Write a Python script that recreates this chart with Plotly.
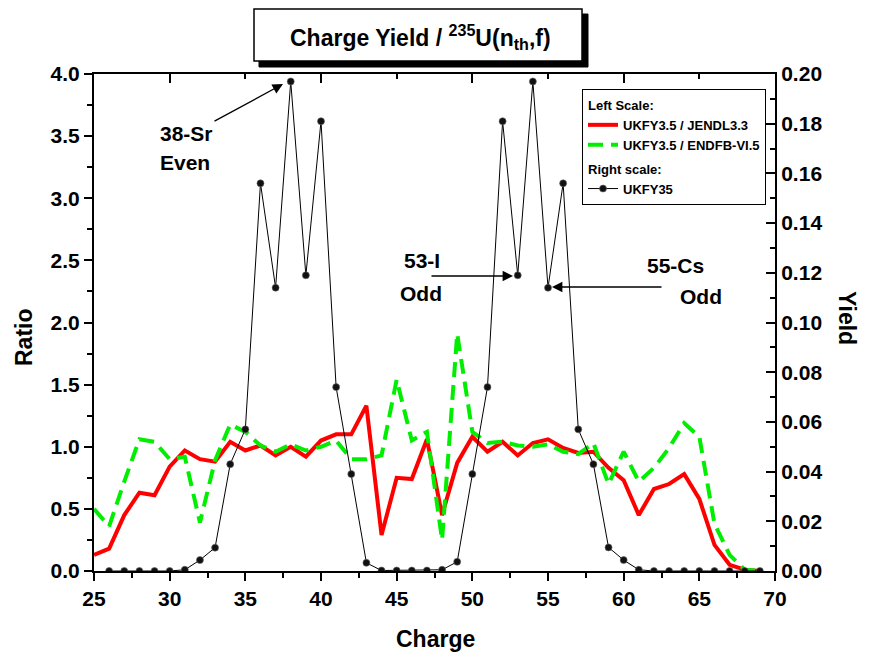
import plotly.graph_objects as go

# ---------------- data ----------------
charge = list(range(25, 70))
ratio_jendl = [0.13, 0.18, 0.45, 0.63, 0.61, 0.84, 0.97, 0.90, 0.88, 1.04,
               0.97, 1.01, 0.93, 1.00, 0.92, 1.05, 1.10, 1.10, 1.33, 0.29,
               0.75, 0.74, 1.06, 0.45, 0.87, 1.08, 0.96, 1.04, 0.93, 1.03,
               1.06, 0.99, 0.95, 0.96, 0.83, 0.73, 0.45, 0.66, 0.70, 0.78,
               0.58, 0.21, 0.05, 0.01, 0.00]
ratio_endfb = [0.50, 0.36, 0.72, 1.06, 1.04, 0.90, 0.92, 0.39, 0.89, 1.18,
               1.12, 1.01, 0.96, 1.02, 0.97, 1.00, 1.05, 0.90, 0.90, 0.93,
               1.54, 1.05, 1.12, 0.25, 1.91, 1.12, 1.03, 1.04, 1.01, 1.00,
               1.02, 0.96, 0.94, 1.03, 0.70, 0.96, 0.72, 0.83, 0.99, 1.19,
               1.08, 0.38, 0.13, 0.01, 0.00]
charge_yield = list(range(26, 70))
yield_ukfy = [0.0, 0.0, 0.0, 0.0, 0.0, 0.0005, 0.0044, 0.0094, 0.043, 0.057,
              0.156, 0.114, 0.197, 0.119, 0.181, 0.074, 0.039, 0.0033, 0.0002, 0.0002,
              0.0002, 0.0002, 0.0005, 0.0037, 0.039, 0.074, 0.181, 0.119, 0.197, 0.114,
              0.156, 0.057, 0.043, 0.0095, 0.0044, 0.0005, 0.0, 0.0, 0.0, 0.0,
              0.0, 0.0, 0.0, 0.0]

# ---------------- geometry helpers ----------------
OFF = 8  # default page body margin
W, H = 870 - OFF, 655 - OFF
L, R, T, B = 94, 775, 74, 571   # plot area in screen pixels


def px(x):
    return (x - L) / (R - L)


def py(y):
    return (B - y) / (B - T)


FONT = "Arial, Liberation Sans, Helvetica, sans-serif"

fig = go.Figure()

fig.add_trace(go.Scatter(
    x=charge, y=ratio_jendl, mode="lines", name="UKFY3.5 / JENDL3.3",
    line=dict(color="#ff0000", width=4), legendgroup="left",
    legendgrouptitle=dict(text="Left Scale:", font=dict(size=13, family=FONT, weight="bold", color="black")),
))
fig.add_trace(go.Scatter(
    x=charge, y=ratio_endfb, mode="lines", name="UKFY3.5 / ENDFB-VI.5",
    line=dict(color="#00ee00", width=4, dash="15px,8px"), legendgroup="left",
))
fig.add_trace(go.Scatter(
    x=charge_yield, y=yield_ukfy, mode="lines+markers", name="UKFY35",
    xaxis="x2", yaxis="y2",
    line=dict(color="black", width=1),
    marker=dict(color="#111111", size=7, line=dict(color="#666666", width=0.6)),
    legendgroup="right",
    legendgrouptitle=dict(text="Right scale:", font=dict(size=13, family=FONT, weight="bold", color="black")),
))

tickfont = dict(family=FONT, size=21, color="black", weight="bold")

fig.update_layout(
    width=W, height=H,
    margin=dict(l=L - OFF, r=870 - R, t=T - OFF, b=655 - B),
    paper_bgcolor="white", plot_bgcolor="white",
    font=dict(family=FONT, color="black"),
    showlegend=True,
    legend=dict(
        x=px(582), y=py(89), xanchor="left", yanchor="top",
        bgcolor="white", bordercolor="black", borderwidth=1,
        font=dict(size=13, family=FONT, weight="bold", color="black"),
        traceorder="grouped", tracegroupgap=4, itemwidth=30,
    ),
    xaxis=dict(
        range=[25, 70], dtick=5, tick0=25, showgrid=False, zeroline=False,
        showline=True, linecolor="black", linewidth=2,
        ticks="outside", ticklen=8, tickwidth=2, tickcolor="black",
        minor=dict(dtick=2.5, ticks="outside", ticklen=5, tickwidth=1.5, tickcolor="black", showgrid=False),
        tickfont=tickfont,
    ),
    xaxis2=dict(
        range=[25, 70], overlaying="x", side="top", anchor="y2",
        dtick=10, tick0=0, showticklabels=False, showgrid=False, zeroline=False,
        showline=True, linecolor="black", linewidth=2,
        ticks="inside", ticklen=9, tickwidth=2, tickcolor="black",
        minor=dict(dtick=5, ticks="inside", ticklen=5, tickwidth=1.5, tickcolor="black", showgrid=False),
    ),
    yaxis=dict(
        range=[0, 4], dtick=0.5, tick0=0, tickformat=".1f", showgrid=False, zeroline=False,
        showline=True, linecolor="black", linewidth=2,
        ticks="outside", ticklen=8, tickwidth=2, tickcolor="black",
        minor=dict(dtick=0.25, ticks="outside", ticklen=5, tickwidth=1.5, tickcolor="black", showgrid=False),
        tickfont=tickfont,
    ),
    yaxis2=dict(
        range=[0, 0.2], overlaying="y", side="right", anchor="x2",
        dtick=0.02, tick0=0, tickformat=".2f", showgrid=False, zeroline=False,
        showline=True, linecolor="black", linewidth=2,
        ticks="inside", ticklen=9, tickwidth=2, tickcolor="black",
        minor=dict(dtick=0.01, ticks="inside", ticklen=5, tickwidth=1.5, tickcolor="black", showgrid=False),
        tickfont=tickfont,
    ),
)

# title box with shadow
fig.add_shape(type="rect", xref="paper", yref="paper",
              x0=px(259), x1=px(588), y0=py(67), y1=py(14),
              fillcolor="black", line=dict(color="black", width=1), layer="above")
fig.add_shape(type="rect", xref="paper", yref="paper",
              x0=px(254), x1=px(582), y0=py(61), y1=py(9),
              fillcolor="white", line=dict(color="black", width=1.5), layer="above")
fig.add_annotation(xref="paper", yref="paper", x=px(420), y=py(37),
                   text="<b>Charge Yield / <sup>235</sup>U(n<sub>th</sub>,f)</b>",
                   showarrow=False, font=dict(size=23, family=FONT, color="black"),
                   xanchor="center", yanchor="middle")

# axis titles
fig.add_annotation(xref="paper", yref="paper", x=px(435), y=py(639), text="<b>Charge</b>",
                   showarrow=False, font=dict(size=23, family=FONT, color="black"),
                   xanchor="center", yanchor="middle")
fig.add_annotation(xref="paper", yref="paper", x=px(24), y=py(337), text="<b>Ratio</b>",
                   showarrow=False, textangle=-90, font=dict(size=23, family=FONT, color="black"),
                   xanchor="center", yanchor="middle")
fig.add_annotation(xref="paper", yref="paper", x=px(847), y=py(318), text="<b>Yield</b>",
                   showarrow=False, textangle=90, font=dict(size=23, family=FONT, color="black"),
                   xanchor="center", yanchor="middle")

# text labels
labfont = dict(size=21, family=FONT, color="black")
for txt, x, y in [("38-Sr", 158, 133), ("Even", 158, 163),
                  ("53-I", 402, 260), ("Odd", 398, 293),
                  ("55-Cs", 645, 265), ("Odd", 678, 296)]:
    fig.add_annotation(xref="paper", yref="paper", x=px(x), y=py(y), text="<b>%s</b>" % txt,
                       showarrow=False, font=labfont, xanchor="left", yanchor="middle")


# arrows (head, tail) in pixel positions converted to data coordinates
def dx(x):
    return 25 + (x - L) / (R - L) * 45


def dy(y):
    return (B - y) / (B - T) * 4


for (hx, hy), (tx, ty) in [((283, 84), (213, 122)),
                           ((513, 276), (430, 276)),
                           ((552, 287), (663, 287))]:
    fig.add_annotation(xref="x", yref="y", axref="x", ayref="y",
                       x=dx(hx), y=dy(hy), ax=dx(tx), ay=dy(ty), text="",
                       showarrow=True, arrowhead=2, arrowsize=1.6, arrowwidth=1.3,
                       arrowcolor="black", standoff=0, startstandoff=0)

fig.write_html("out.html")
